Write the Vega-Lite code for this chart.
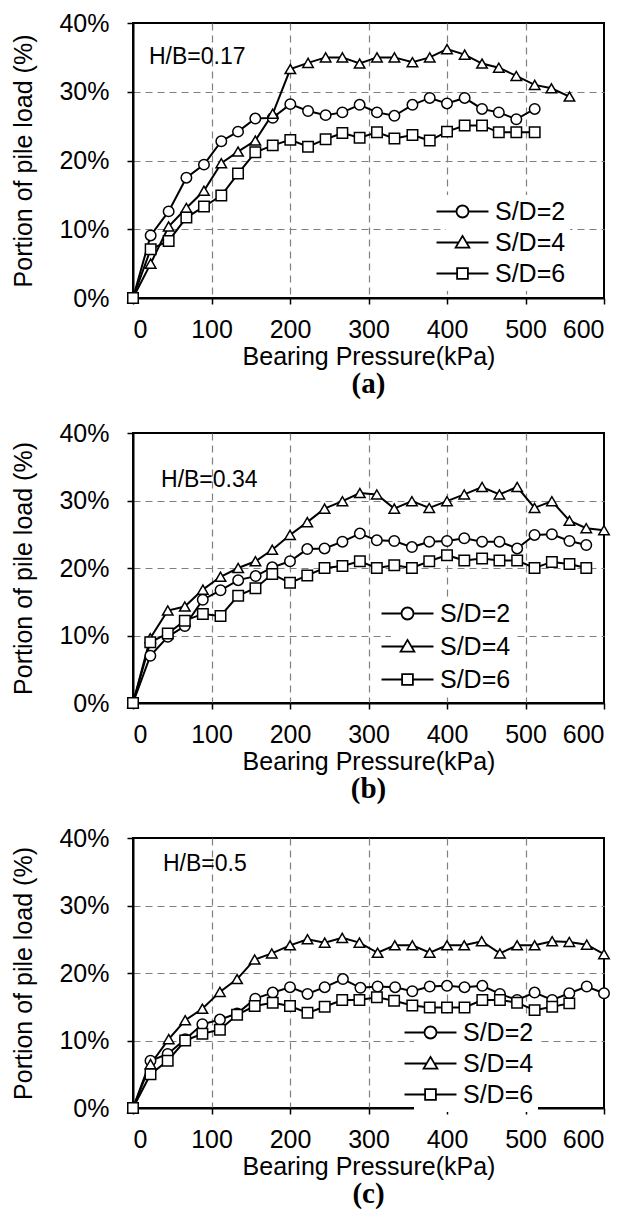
{
  "$schema": "https://vega.github.io/schema/vega-lite/v6.json",
  "padding": {"left": 10, "top": 10, "right": 0, "bottom": 0},
  "background": "white",
  "config": {
    "font": "Liberation Sans",
    "view": {"stroke": "black", "strokeWidth": 2},
    "axis": {"domainColor": "black", "domainWidth": 2, "tickColor": "black", "tickWidth": 1.5, "tickSize": 6, "labelFontSize": 25, "labelColor": "black", "labelFont": "Liberation Sans", "titleFontSize": 25, "titleFont": "Liberation Sans", "titleFontWeight": "normal", "titleColor": "black", "gridColor": "#808080", "gridDash": [7, 5], "gridWidth": 1.2},
    "axisX": {"labelPadding": 13, "titlePadding": 2, "labelAngle": 0},
    "axisY": {"labelPadding": 18, "titlePadding": 22},
    "legend": {"orient": "none", "labelFontSize": 25, "labelFont": "Liberation Sans", "labelColor": "black", "symbolSize": 144, "labelOffset": 20, "fillColor": "white", "padding": 4, "rowPadding": 5, "symbolStrokeWidth": 1.8, "symbolStrokeColor": "black", "symbolOpacity": 1},
    "title": {"font": "Liberation Serif", "fontSize": 29, "fontWeight": "bold", "color": "black", "orient": "bottom", "anchor": "middle", "offset": 1}
  },
  "data": {"values": [
    {"p":"a","s":"S/D=2","x":0,"y":0},{"p":"a","s":"S/D=2","x":22.5,"y":9.1},{"p":"a","s":"S/D=2","x":45.4,"y":12.6},{"p":"a","s":"S/D=2","x":68,"y":17.5},{"p":"a","s":"S/D=2","x":90.4,"y":19.4},{"p":"a","s":"S/D=2","x":112.5,"y":22.8},{"p":"a","s":"S/D=2","x":133.8,"y":24.2},{"p":"a","s":"S/D=2","x":155.8,"y":26.1},{"p":"a","s":"S/D=2","x":178,"y":26.2},{"p":"a","s":"S/D=2","x":200.4,"y":28.2},{"p":"a","s":"S/D=2","x":223,"y":27.2},{"p":"a","s":"S/D=2","x":245.4,"y":26.6},{"p":"a","s":"S/D=2","x":266.7,"y":27.0},{"p":"a","s":"S/D=2","x":288.7,"y":28.1},{"p":"a","s":"S/D=2","x":310.8,"y":27.0},{"p":"a","s":"S/D=2","x":333,"y":26.5},{"p":"a","s":"S/D=2","x":356,"y":28.1},{"p":"a","s":"S/D=2","x":378,"y":29.1},{"p":"a","s":"S/D=2","x":400,"y":28.3},{"p":"a","s":"S/D=2","x":422.5,"y":29.1},{"p":"a","s":"S/D=2","x":444.6,"y":27.5},{"p":"a","s":"S/D=2","x":466,"y":27.0},{"p":"a","s":"S/D=2","x":488.3,"y":26.0},{"p":"a","s":"S/D=2","x":511.7,"y":27.5},
    {"p":"a","s":"S/D=4","x":0,"y":0},{"p":"a","s":"S/D=4","x":22.5,"y":5.0},{"p":"a","s":"S/D=4","x":45.4,"y":10.4},{"p":"a","s":"S/D=4","x":68,"y":13.1},{"p":"a","s":"S/D=4","x":90.4,"y":15.6},{"p":"a","s":"S/D=4","x":112.5,"y":19.6},{"p":"a","s":"S/D=4","x":133.8,"y":21.3},{"p":"a","s":"S/D=4","x":155.8,"y":22.9},{"p":"a","s":"S/D=4","x":178,"y":26.8},{"p":"a","s":"S/D=4","x":200.4,"y":33.3},{"p":"a","s":"S/D=4","x":223,"y":34.2},{"p":"a","s":"S/D=4","x":245.4,"y":35.0},{"p":"a","s":"S/D=4","x":266.7,"y":35.0},{"p":"a","s":"S/D=4","x":288.7,"y":34.1},{"p":"a","s":"S/D=4","x":310.8,"y":35.0},{"p":"a","s":"S/D=4","x":333,"y":35.0},{"p":"a","s":"S/D=4","x":356,"y":34.3},{"p":"a","s":"S/D=4","x":378,"y":35.0},{"p":"a","s":"S/D=4","x":400,"y":36.2},{"p":"a","s":"S/D=4","x":422.5,"y":35.4},{"p":"a","s":"S/D=4","x":444.6,"y":34.1},{"p":"a","s":"S/D=4","x":466,"y":33.5},{"p":"a","s":"S/D=4","x":488.3,"y":32.3},{"p":"a","s":"S/D=4","x":511.7,"y":31.0},{"p":"a","s":"S/D=4","x":533,"y":30.5},{"p":"a","s":"S/D=4","x":556,"y":29.3},
    {"p":"a","s":"S/D=6","x":0,"y":0},{"p":"a","s":"S/D=6","x":22.5,"y":7.1},{"p":"a","s":"S/D=6","x":45.4,"y":8.3},{"p":"a","s":"S/D=6","x":68,"y":11.7},{"p":"a","s":"S/D=6","x":90.4,"y":13.3},{"p":"a","s":"S/D=6","x":112.5,"y":14.9},{"p":"a","s":"S/D=6","x":133.8,"y":18.1},{"p":"a","s":"S/D=6","x":155.8,"y":21.2},{"p":"a","s":"S/D=6","x":178,"y":22.2},{"p":"a","s":"S/D=6","x":200.4,"y":23.0},{"p":"a","s":"S/D=6","x":223,"y":22.0},{"p":"a","s":"S/D=6","x":245.4,"y":23.1},{"p":"a","s":"S/D=6","x":266.7,"y":24.0},{"p":"a","s":"S/D=6","x":288.7,"y":23.3},{"p":"a","s":"S/D=6","x":310.8,"y":24.1},{"p":"a","s":"S/D=6","x":333,"y":23.2},{"p":"a","s":"S/D=6","x":356,"y":23.7},{"p":"a","s":"S/D=6","x":378,"y":22.9},{"p":"a","s":"S/D=6","x":400,"y":24.2},{"p":"a","s":"S/D=6","x":422.5,"y":25.1},{"p":"a","s":"S/D=6","x":444.6,"y":25.1},{"p":"a","s":"S/D=6","x":466,"y":24.1},{"p":"a","s":"S/D=6","x":488.3,"y":24.1},{"p":"a","s":"S/D=6","x":511.7,"y":24.1},
    {"p":"b","s":"S/D=2","x":0,"y":0},{"p":"b","s":"S/D=2","x":22.1,"y":7.0},{"p":"b","s":"S/D=2","x":44.3,"y":9.8},{"p":"b","s":"S/D=2","x":66,"y":11.4},{"p":"b","s":"S/D=2","x":88.9,"y":15.3},{"p":"b","s":"S/D=2","x":111.5,"y":16.7},{"p":"b","s":"S/D=2","x":134,"y":18.2},{"p":"b","s":"S/D=2","x":156.2,"y":18.8},{"p":"b","s":"S/D=2","x":177.4,"y":20.1},{"p":"b","s":"S/D=2","x":200,"y":21.0},{"p":"b","s":"S/D=2","x":222,"y":22.8},{"p":"b","s":"S/D=2","x":244,"y":22.9},{"p":"b","s":"S/D=2","x":266.8,"y":23.9},{"p":"b","s":"S/D=2","x":289,"y":25.1},{"p":"b","s":"S/D=2","x":310.6,"y":24.1},{"p":"b","s":"S/D=2","x":332.8,"y":24.0},{"p":"b","s":"S/D=2","x":355.3,"y":23.1},{"p":"b","s":"S/D=2","x":377.4,"y":23.9},{"p":"b","s":"S/D=2","x":400,"y":24.0},{"p":"b","s":"S/D=2","x":422,"y":24.4},{"p":"b","s":"S/D=2","x":444.7,"y":23.9},{"p":"b","s":"S/D=2","x":466.8,"y":23.9},{"p":"b","s":"S/D=2","x":489.4,"y":22.9},{"p":"b","s":"S/D=2","x":511.5,"y":24.9},{"p":"b","s":"S/D=2","x":533.6,"y":25.0},{"p":"b","s":"S/D=2","x":556,"y":24.0},{"p":"b","s":"S/D=2","x":577.4,"y":23.4},
    {"p":"b","s":"S/D=4","x":0,"y":0},{"p":"b","s":"S/D=4","x":22,"y":9.6},{"p":"b","s":"S/D=4","x":44.3,"y":13.7},{"p":"b","s":"S/D=4","x":66,"y":14.3},{"p":"b","s":"S/D=4","x":89,"y":16.8},{"p":"b","s":"S/D=4","x":111.5,"y":18.7},{"p":"b","s":"S/D=4","x":134,"y":20.0},{"p":"b","s":"S/D=4","x":156,"y":21.0},{"p":"b","s":"S/D=4","x":177.4,"y":22.7},{"p":"b","s":"S/D=4","x":200,"y":24.9},{"p":"b","s":"S/D=4","x":222,"y":26.8},{"p":"b","s":"S/D=4","x":244,"y":28.8},{"p":"b","s":"S/D=4","x":266.8,"y":29.9},{"p":"b","s":"S/D=4","x":289,"y":31.1},{"p":"b","s":"S/D=4","x":310.6,"y":30.9},{"p":"b","s":"S/D=4","x":332.8,"y":28.8},{"p":"b","s":"S/D=4","x":355.3,"y":29.9},{"p":"b","s":"S/D=4","x":377.4,"y":28.9},{"p":"b","s":"S/D=4","x":400,"y":29.9},{"p":"b","s":"S/D=4","x":422,"y":30.9},{"p":"b","s":"S/D=4","x":444.7,"y":32.0},{"p":"b","s":"S/D=4","x":466.8,"y":30.9},{"p":"b","s":"S/D=4","x":489.4,"y":32.0},{"p":"b","s":"S/D=4","x":511.5,"y":28.9},{"p":"b","s":"S/D=4","x":533.6,"y":29.9},{"p":"b","s":"S/D=4","x":556,"y":27.0},{"p":"b","s":"S/D=4","x":577.4,"y":25.9},{"p":"b","s":"S/D=4","x":600,"y":25.6},
    {"p":"b","s":"S/D=6","x":0,"y":0},{"p":"b","s":"S/D=6","x":22,"y":9.0},{"p":"b","s":"S/D=6","x":44.3,"y":10.3},{"p":"b","s":"S/D=6","x":66,"y":12.2},{"p":"b","s":"S/D=6","x":89,"y":13.2},{"p":"b","s":"S/D=6","x":111.5,"y":12.9},{"p":"b","s":"S/D=6","x":134,"y":15.9},{"p":"b","s":"S/D=6","x":156,"y":17.0},{"p":"b","s":"S/D=6","x":177.4,"y":19.1},{"p":"b","s":"S/D=6","x":200,"y":17.8},{"p":"b","s":"S/D=6","x":222,"y":18.9},{"p":"b","s":"S/D=6","x":244,"y":20.0},{"p":"b","s":"S/D=6","x":266.8,"y":20.3},{"p":"b","s":"S/D=6","x":289,"y":21.0},{"p":"b","s":"S/D=6","x":310.6,"y":20.0},{"p":"b","s":"S/D=6","x":332.8,"y":20.4},{"p":"b","s":"S/D=6","x":355.3,"y":20.0},{"p":"b","s":"S/D=6","x":377.4,"y":21.0},{"p":"b","s":"S/D=6","x":400,"y":21.9},{"p":"b","s":"S/D=6","x":422,"y":21.1},{"p":"b","s":"S/D=6","x":444.7,"y":21.4},{"p":"b","s":"S/D=6","x":466.8,"y":21.1},{"p":"b","s":"S/D=6","x":489.4,"y":21.1},{"p":"b","s":"S/D=6","x":511.5,"y":20.0},{"p":"b","s":"S/D=6","x":533.6,"y":20.9},{"p":"b","s":"S/D=6","x":556,"y":20.6},{"p":"b","s":"S/D=6","x":577.4,"y":20.0},
    {"p":"c","s":"S/D=2","x":0,"y":0},{"p":"c","s":"S/D=2","x":22.3,"y":7.0},{"p":"c","s":"S/D=2","x":44.2,"y":8.0},{"p":"c","s":"S/D=2","x":66.5,"y":10.2},{"p":"c","s":"S/D=2","x":88.4,"y":12.4},{"p":"c","s":"S/D=2","x":110.7,"y":13.1},{"p":"c","s":"S/D=2","x":132.6,"y":14.0},{"p":"c","s":"S/D=2","x":155.8,"y":16.2},{"p":"c","s":"S/D=2","x":178,"y":17.1},{"p":"c","s":"S/D=2","x":200,"y":17.9},{"p":"c","s":"S/D=2","x":222.3,"y":16.9},{"p":"c","s":"S/D=2","x":244.2,"y":17.9},{"p":"c","s":"S/D=2","x":267.4,"y":19.1},{"p":"c","s":"S/D=2","x":289.7,"y":17.8},{"p":"c","s":"S/D=2","x":311.6,"y":18.0},{"p":"c","s":"S/D=2","x":333.9,"y":17.9},{"p":"c","s":"S/D=2","x":355.8,"y":17.3},{"p":"c","s":"S/D=2","x":378,"y":18.0},{"p":"c","s":"S/D=2","x":400,"y":18.1},{"p":"c","s":"S/D=2","x":422.3,"y":17.9},{"p":"c","s":"S/D=2","x":445,"y":18.1},{"p":"c","s":"S/D=2","x":467.4,"y":16.9},{"p":"c","s":"S/D=2","x":489.3,"y":16.0},{"p":"c","s":"S/D=2","x":511.6,"y":17.1},{"p":"c","s":"S/D=2","x":534,"y":16.0},{"p":"c","s":"S/D=2","x":555.8,"y":17.0},{"p":"c","s":"S/D=2","x":578,"y":18.0},{"p":"c","s":"S/D=2","x":600,"y":17.0},
    {"p":"c","s":"S/D=4","x":0,"y":0},{"p":"c","s":"S/D=4","x":22.3,"y":6.5},{"p":"c","s":"S/D=4","x":45.5,"y":10.2},{"p":"c","s":"S/D=4","x":66.5,"y":13.0},{"p":"c","s":"S/D=4","x":88.4,"y":14.7},{"p":"c","s":"S/D=4","x":110.7,"y":17.2},{"p":"c","s":"S/D=4","x":132.6,"y":19.1},{"p":"c","s":"S/D=4","x":155,"y":22.0},{"p":"c","s":"S/D=4","x":176.8,"y":22.9},{"p":"c","s":"S/D=4","x":200,"y":24.1},{"p":"c","s":"S/D=4","x":222.3,"y":25.0},{"p":"c","s":"S/D=4","x":244.2,"y":24.5},{"p":"c","s":"S/D=4","x":266.5,"y":25.2},{"p":"c","s":"S/D=4","x":288.4,"y":24.5},{"p":"c","s":"S/D=4","x":311.6,"y":23.0},{"p":"c","s":"S/D=4","x":333.5,"y":24.1},{"p":"c","s":"S/D=4","x":355.8,"y":24.1},{"p":"c","s":"S/D=4","x":378,"y":23.0},{"p":"c","s":"S/D=4","x":400,"y":24.1},{"p":"c","s":"S/D=4","x":421.9,"y":24.1},{"p":"c","s":"S/D=4","x":444.2,"y":24.7},{"p":"c","s":"S/D=4","x":467.4,"y":22.9},{"p":"c","s":"S/D=4","x":489.3,"y":24.1},{"p":"c","s":"S/D=4","x":511.6,"y":24.1},{"p":"c","s":"S/D=4","x":534,"y":24.7},{"p":"c","s":"S/D=4","x":555.8,"y":24.6},{"p":"c","s":"S/D=4","x":578,"y":24.2},{"p":"c","s":"S/D=4","x":600,"y":22.8},
    {"p":"c","s":"S/D=6","x":0,"y":0},{"p":"c","s":"S/D=6","x":22.3,"y":5.0},{"p":"c","s":"S/D=6","x":44.2,"y":7.0},{"p":"c","s":"S/D=6","x":66.5,"y":10.0},{"p":"c","s":"S/D=6","x":88.4,"y":11.0},{"p":"c","s":"S/D=6","x":110.7,"y":11.6},{"p":"c","s":"S/D=6","x":132.6,"y":13.8},{"p":"c","s":"S/D=6","x":155,"y":15.1},{"p":"c","s":"S/D=6","x":178,"y":15.6},{"p":"c","s":"S/D=6","x":200,"y":15.1},{"p":"c","s":"S/D=6","x":222.3,"y":14.1},{"p":"c","s":"S/D=6","x":244.2,"y":15.0},{"p":"c","s":"S/D=6","x":266.5,"y":16.0},{"p":"c","s":"S/D=6","x":288.4,"y":16.0},{"p":"c","s":"S/D=6","x":310.7,"y":16.4},{"p":"c","s":"S/D=6","x":332.6,"y":15.9},{"p":"c","s":"S/D=6","x":355.8,"y":15.2},{"p":"c","s":"S/D=6","x":378,"y":14.9},{"p":"c","s":"S/D=6","x":400,"y":14.9},{"p":"c","s":"S/D=6","x":422.3,"y":14.9},{"p":"c","s":"S/D=6","x":445,"y":16.0},{"p":"c","s":"S/D=6","x":467.4,"y":16.0},{"p":"c","s":"S/D=6","x":489.3,"y":15.6},{"p":"c","s":"S/D=6","x":511.6,"y":14.5},{"p":"c","s":"S/D=6","x":534,"y":15.0},{"p":"c","s":"S/D=6","x":555.8,"y":15.5}
  ]},
  "vconcat": [
    {
      "width": 471, "height": 275,
      "title": {"text": "(a)"},
      "encoding": {
        "x": {"field": "x", "type": "quantitative", "scale": {"domain": [0, 600], "nice": false}, "axis": {"values": [0, 100, 200, 300, 400, 500, 600], "title": "Bearing Pressure(kPa)", "gridOpacity": {"condition": {"test": "datum.value === 0 || datum.value === 600", "value": 0}, "value": 1}}},
        "y": {"field": "y", "type": "quantitative", "scale": {"domain": [0, 40], "nice": false}, "axis": {"values": [0, 10, 20, 30, 40], "labelExpr": "datum.value + '%'", "title": "Portion of pile load (%)", "gridOpacity": {"condition": {"test": "datum.value === 0 || datum.value === 40", "value": 0}, "value": 1}}}
      },
      "layer": [
        {"transform": [{"filter": "datum.p === 'a'"}], "mark": {"type": "line", "color": "black", "strokeWidth": 2}, "encoding": {"detail": {"field": "s"}}},
        {"transform": [{"filter": "datum.p === 'a'"}], "mark": {"type": "point", "filled": true, "fill": "white", "stroke": "black", "strokeWidth": 1.5, "size": 110, "opacity": 1},
         "encoding": {"shape": {"condition": [{"test": "datum.s === 'S/D=2'", "value": "circle"}, {"test": "datum.s === 'S/D=4'", "value": "triangle-up"}], "value": "square"}}},
        {"transform": [{"filter": "datum.p === 'none'"}], "mark": {"type": "point", "filled": false, "color": "black", "strokeWidth": 1.8, "opacity": 1, "size": 144},
         "encoding": {"shape": {"field": "s", "type": "nominal", "scale": {"domain": ["S/D=2", "S/D=4", "S/D=6"], "range": ["M-4.33,0H-1M1,0H4.33M1,0A1,1,0,1,1,-1,0A1,1,0,1,1,1,0Z", "M-4.33,0H-0.62M0.62,0H4.33M0,-1.1L1.15,0.85L-1.15,0.85Z", "M-4.33,0H-0.9M0.9,0H4.33M-0.9,-0.9H0.9V0.9H-0.9Z"]},
           "legend": {"title": null, "orient": "none", "legendX": 313, "legendY": 172, "rowPadding": 5, "symbolStrokeColor": "black", "symbolStrokeWidth": 1.8}}}},
        {"data": {"values": [{"x": 20.4, "y": 34.0, "t": "H/B=0.17"}]}, "mark": {"type": "text", "align": "left", "baseline": "alphabetic", "fontSize": 23, "font": "Liberation Sans", "color": "black"}, "encoding": {"text": {"field": "t"}}}
      ]
    },
    {
      "width": 471, "height": 270,
      "title": {"text": "(b)"},
      "encoding": {
        "x": {"field": "x", "type": "quantitative", "scale": {"domain": [0, 600], "nice": false}, "axis": {"values": [0, 100, 200, 300, 400, 500, 600], "title": "Bearing Pressure(kPa)", "gridOpacity": {"condition": {"test": "datum.value === 0 || datum.value === 600", "value": 0}, "value": 1}}},
        "y": {"field": "y", "type": "quantitative", "scale": {"domain": [0, 40], "nice": false}, "axis": {"values": [0, 10, 20, 30, 40], "labelExpr": "datum.value + '%'", "title": "Portion of pile load (%)", "gridOpacity": {"condition": {"test": "datum.value === 0 || datum.value === 40", "value": 0}, "value": 1}}}
      },
      "layer": [
        {"transform": [{"filter": "datum.p === 'b'"}], "mark": {"type": "line", "color": "black", "strokeWidth": 2}, "encoding": {"detail": {"field": "s"}}},
        {"transform": [{"filter": "datum.p === 'b'"}], "mark": {"type": "point", "filled": true, "fill": "white", "stroke": "black", "strokeWidth": 1.5, "size": 110, "opacity": 1},
         "encoding": {"shape": {"condition": [{"test": "datum.s === 'S/D=2'", "value": "circle"}, {"test": "datum.s === 'S/D=4'", "value": "triangle-up"}], "value": "square"}}},
        {"transform": [{"filter": "datum.p === 'none'"}], "mark": {"type": "point", "filled": false, "color": "black", "strokeWidth": 1.8, "opacity": 1, "size": 144},
         "encoding": {"shape": {"field": "s", "type": "nominal", "scale": {"domain": ["S/D=2", "S/D=4", "S/D=6"], "range": ["M-4.33,0H-1M1,0H4.33M1,0A1,1,0,1,1,-1,0A1,1,0,1,1,1,0Z", "M-4.33,0H-0.62M0.62,0H4.33M0,-1.1L1.15,0.85L-1.15,0.85Z", "M-4.33,0H-0.9M0.9,0H4.33M-0.9,-0.9H0.9V0.9H-0.9Z"]},
           "legend": {"title": null, "orient": "none", "legendX": 258, "legendY": 164, "rowPadding": 7, "symbolStrokeColor": "black", "symbolStrokeWidth": 1.8}}}},
        {"data": {"values": [{"x": 35.7, "y": 32.0, "t": "H/B=0.34"}]}, "mark": {"type": "text", "align": "left", "baseline": "alphabetic", "fontSize": 23, "font": "Liberation Sans", "color": "black"}, "encoding": {"text": {"field": "t"}}}
      ]
    },
    {
      "width": 471, "height": 270,
      "title": {"text": "(c)"},
      "encoding": {
        "x": {"field": "x", "type": "quantitative", "scale": {"domain": [0, 600], "nice": false}, "axis": {"values": [0, 100, 200, 300, 400, 500, 600], "title": "Bearing Pressure(kPa)", "gridOpacity": {"condition": {"test": "datum.value === 0 || datum.value === 600", "value": 0}, "value": 1}}},
        "y": {"field": "y", "type": "quantitative", "scale": {"domain": [0, 40], "nice": false}, "axis": {"values": [0, 10, 20, 30, 40], "labelExpr": "datum.value + '%'", "title": "Portion of pile load (%)", "gridOpacity": {"condition": {"test": "datum.value === 0 || datum.value === 40", "value": 0}, "value": 1}}}
      },
      "layer": [
        {"transform": [{"filter": "datum.p === 'c'"}], "mark": {"type": "line", "color": "black", "strokeWidth": 2}, "encoding": {"detail": {"field": "s"}}},
        {"transform": [{"filter": "datum.p === 'c'"}], "mark": {"type": "point", "filled": true, "fill": "white", "stroke": "black", "strokeWidth": 1.5, "size": 110, "opacity": 1},
         "encoding": {"shape": {"condition": [{"test": "datum.s === 'S/D=2'", "value": "circle"}, {"test": "datum.s === 'S/D=4'", "value": "triangle-up"}], "value": "square"}}},
        {"transform": [{"filter": "datum.p === 'none'"}], "mark": {"type": "point", "filled": false, "color": "black", "strokeWidth": 1.8, "opacity": 1, "size": 144},
         "encoding": {"shape": {"field": "s", "type": "nominal", "scale": {"domain": ["S/D=2", "S/D=4", "S/D=6"], "range": ["M-4.33,0H-1M1,0H4.33M1,0A1,1,0,1,1,-1,0A1,1,0,1,1,1,0Z", "M-4.33,0H-0.62M0.62,0H4.33M0,-1.1L1.15,0.85L-1.15,0.85Z", "M-4.33,0H-0.9M0.9,0H4.33M-0.9,-0.9H0.9V0.9H-0.9Z"]},
           "legend": {"title": null, "orient": "none", "legendX": 281, "legendY": 178, "rowPadding": 5, "symbolStrokeColor": "black", "symbolStrokeWidth": 1.8}}}},
        {"data": {"values": [{"x": 38.2, "y": 35.1, "t": "H/B=0.5"}]}, "mark": {"type": "text", "align": "left", "baseline": "alphabetic", "fontSize": 23, "font": "Liberation Sans", "color": "black"}, "encoding": {"text": {"field": "t"}}}
      ]
    }
  ],
  "resolve": {"scale": {"shape": "independent"}, "legend": {"shape": "independent"}},
  "spacing": 135,
  "bounds": "flush"
}
